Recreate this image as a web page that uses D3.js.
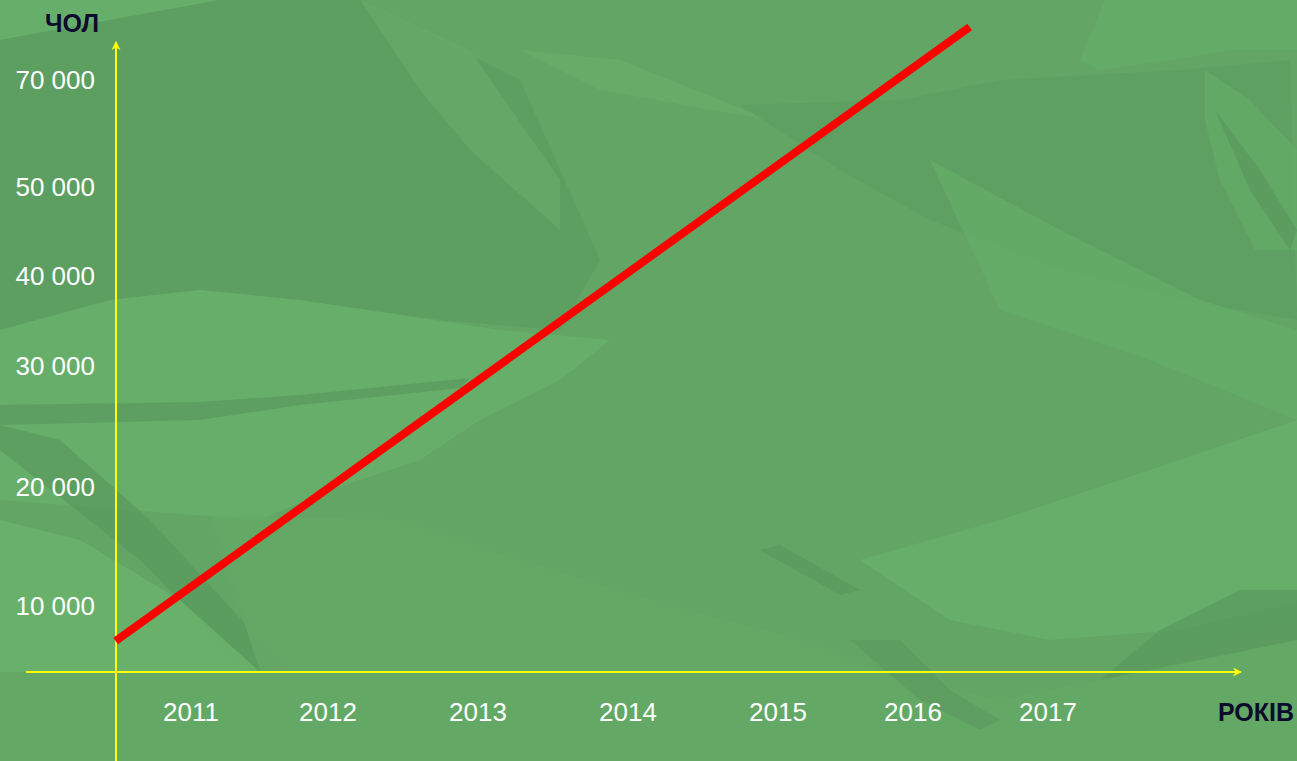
<!DOCTYPE html>
<html>
<head>
<meta charset="utf-8">
<title>ЧОЛ / РОКІВ</title>
<style>
  html, body { margin: 0; padding: 0; background: #62a565; }
  svg { display: block; }
  text { font-family: "Liberation Sans", Arial, sans-serif; }
  .tick { fill: #ffffff; font-size: 26px; }
  .title { fill: #0b0b2b; font-size: 25px; font-weight: bold; }
</style>
</head>
<body>
<svg width="1297" height="761"></svg>
<script src="https://cdn.jsdelivr.net/npm/d3@7"></script>
<script>
// tick labels (the slide spaces them by hand, not evenly)
const yTicks = [10000, 20000, 30000, 40000, 50000, 70000];
const years = [2011, 2012, 2013, 2014, 2015, 2016, 2017];
// the red trend line
const lineYears = [2010.45, 2016.42];
const lineValues = [4700, 79900];

const W = 1297, H = 761;
const axisX = 116, axisY = 672;
const svg = d3.select("svg");

// piecewise scales, matching where the labels sit on the slide
const y = d3.scaleLinear()
  .domain([0, 10000, 20000, 30000, 40000, 50000, 70000])
  .range([axisY, 606, 487, 366, 276, 187, 80]);
const x = d3.scaleLinear()
  .domain([2010, 2011, 2012, 2013, 2014, 2015, 2016, 2017])
  .range([54, 191, 328, 478, 628, 778, 913, 1048]);

// background: crumpled paper shards
const bg = svg.append("g");
bg.append("rect").attr("width", W).attr("height", H).attr("fill", "#62a565");
const shards = [
  ["#6ab26c", [[0,0],[220,0],[0,40]]],
  ["#5c9c60", [[0,40],[220,0],[360,0],[420,30],[520,80],[560,170],[600,260],[560,330],[440,320],[300,300],[200,290],[110,300],[0,330]]],
  ["#66ab68", [[360,0],[470,50],[560,180],[560,230],[470,150],[420,90]]],
  ["#68af6a", [[520,50],[620,60],[720,100],[770,120],[600,90]]],
  ["#5e9f61", [[740,105],[900,100],[1000,80],[1180,70],[1290,60],[1297,320],[1180,300],[1060,270],[930,220],[840,170]]],
  ["#67ad69", [[1105,0],[1297,0],[1297,50],[1230,50],[1170,60],[1100,70],[1080,60]]],
  ["#66ac68", [[1205,70],[1250,100],[1297,150],[1297,250],[1255,250],[1220,180],[1205,120]]],
  ["#5a985d", [[1215,110],[1260,170],[1297,230],[1290,250],[1250,190]]],
  ["#6ab26c", [[0,330],[110,300],[200,290],[300,300],[380,312],[500,330],[610,340],[560,380],[480,420],[420,460],[330,490],[260,520],[0,500]]],
  ["#5a995d", [[0,405],[200,402],[300,395],[470,378],[460,388],[300,405],[200,420],[0,425]]],
  ["#5a995d", [[0,425],[60,440],[150,520],[260,640],[290,672],[250,672],[140,560],[0,450]]],
  ["#6cb56d", [[0,520],[80,540],[180,600],[260,672],[0,672]]],
  ["#65aa67", [[210,515],[400,520],[520,560],[650,600],[800,640],[900,680],[1000,700],[1100,680],[1297,620],[1297,761],[0,761],[0,672],[260,672]]],
  ["#6ab26c", [[860,560],[1000,520],[1120,480],[1297,420],[1297,600],[1180,630],[1050,640],[950,620]]],
  ["#5a995d", [[1160,630],[1240,590],[1297,590],[1297,640],[1200,660],[1100,680]]],
  ["#5c9b5f", [[850,640],[900,640],[950,690],[1000,720],[980,730],[920,700]]],
  ["#67ad69", [[930,160],[1060,230],[1200,300],[1297,330],[1297,420],[1150,360],[1000,310]]],
  ["#5b9a5e", [[760,550],[780,545],[860,590],[840,595]]]
];
bg.selectAll("polygon").data(shards).enter().append("polygon")
  .attr("points", d => d[1].map(p => p.join(",")).join(" "))
  .attr("fill", d => d[0])
  .attr("opacity", 0.75);

// arrow marker for the axes
svg.append("defs").append("marker")
  .attr("id", "arr")
  .attr("viewBox", "0 0 10 10")
  .attr("refX", 9).attr("refY", 5)
  .attr("markerWidth", 12).attr("markerHeight", 9)
  .attr("markerUnits", "userSpaceOnUse")
  .attr("orient", "auto")
  .append("path")
  .attr("d", "M0,0 L10,5 L0,10 L3,5 Z")
  .attr("fill", "#ffff00");

// axes
svg.append("line")
  .attr("x1", axisX).attr("y1", H)
  .attr("x2", axisX).attr("y2", 42)
  .attr("stroke", "#ffff00").attr("stroke-width", 2)
  .attr("marker-end", "url(#arr)");
svg.append("line")
  .attr("x1", 26).attr("y1", axisY)
  .attr("x2", 1241).attr("y2", axisY)
  .attr("stroke", "#ffff00").attr("stroke-width", 2)
  .attr("marker-end", "url(#arr)");

// tick labels
svg.selectAll("text.ylab").data(yTicks).enter().append("text")
  .attr("class", "tick ylab")
  .attr("x", 95)
  .attr("y", d => y(d))
  .attr("dy", "0.35em")
  .attr("text-anchor", "end")
  .text(d => d3.format(",")(d).replace(",", " "));

svg.selectAll("text.xlab").data(years).enter().append("text")
  .attr("class", "tick xlab")
  .attr("x", d => x(d))
  .attr("y", 712)
  .attr("dy", "0.35em")
  .attr("text-anchor", "middle")
  .text(d => d);

// axis titles
svg.append("text").attr("class", "title")
  .attr("x", 72).attr("y", 23).attr("dy", "0.35em")
  .attr("text-anchor", "middle").text("ЧОЛ");
svg.append("text").attr("class", "title")
  .attr("x", 1294).attr("y", 712).attr("dy", "0.35em")
  .attr("text-anchor", "end").text("РОКІВ");

// red line
const pts = lineYears.map((yr, i) => [yr, lineValues[i]]);
svg.append("path")
  .datum(pts)
  .attr("d", d3.line().x(d => x(d[0])).y(d => y(d[1])))
  .attr("fill", "none")
  .attr("stroke", "#ff0000")
  .attr("stroke-width", 8);
</script>
</body>
</html>
